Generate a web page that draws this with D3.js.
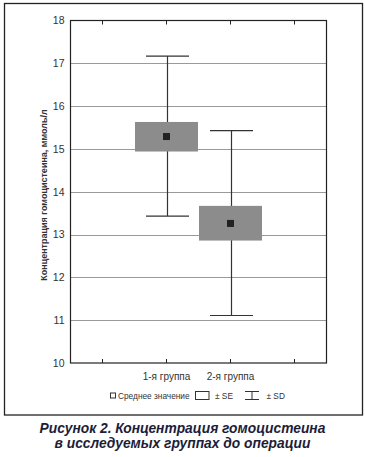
<!DOCTYPE html>
<html><head><meta charset="utf-8">
<script src="https://cdn.jsdelivr.net/npm/d3@7"></script>
<style>body{margin:0;background:#fff;}svg{display:block;font-family:"Liberation Sans",Arial,sans-serif;}</style>
</head><body>
<svg id="c" width="365" height="457"></svg>
<script>
const categories = ["", "1-я группа", "2-я группа", ""];
const groups = ["1-я группа", "2-я группа"];
const means = [15.29, 13.26];
const seLow = [14.94, 12.86];
const seHigh = [15.63, 13.67];
const sdLow = [13.43, 11.11];
const sdHigh = [17.17, 15.43];
const yTicks = [10, 11, 12, 13, 14, 15, 16, 17, 18];
const yLabel = "Концентрация гомоцистеина, ммоль/л";
const legendLabels = ["Среднее значение", "± SE", "± SD"];
const titleLines = ["Рисунок 2. Концентрация гомоцистеина", "в исследуемых группах до операции"];

const svg = d3.select("#c");
const L = 70.5, R = 326.5, T = 20.5, B = 363;
const x = d3.scaleBand().domain(categories.map((c, i) => i)).range([L, R]);
const y = d3.scaleLinear().domain([10, 18]).range([B, T]);

// outer frame
svg.append("rect").attr("x", 4.5).attr("y", 3.5).attr("width", 358).attr("height", 411.5)
  .attr("fill", "none").attr("stroke", "#222").attr("stroke-width", 1.3);

// gridlines
svg.append("g").selectAll("line").data(yTicks.filter(t => t > 10 && t < 18)).join("line")
  .attr("x1", L).attr("x2", R).attr("y1", d => Math.round(y(d)) + 0.5).attr("y2", d => Math.round(y(d)) + 0.5)
  .attr("stroke", "#9a9a9a").attr("stroke-width", 1);

// y axis labels
const yAxis = d3.axisLeft(y).tickValues(yTicks).tickSize(0).tickPadding(6);
const gy = svg.append("g").attr("transform", `translate(${L},0)`).call(yAxis);
gy.select(".domain").remove();
gy.selectAll("text").attr("font-size", 10.5).attr("fill", "#333").attr("font-family", "Liberation Sans, Arial");

// x axis bottom (inward ticks)
const xb = d3.axisBottom(x).tickSize(-4).tickPadding(10).tickFormat(i => categories[i]);
const gxb = svg.append("g").attr("transform", `translate(0,${B})`).call(xb);
gxb.select(".domain").remove();
gxb.selectAll("line").attr("stroke", "#222");
gxb.selectAll("text").attr("font-size", 10).attr("fill", "#333").attr("font-family", "Liberation Sans, Arial");
const xt = d3.axisTop(x).tickSize(-4).tickFormat("");
const gxt = svg.append("g").attr("transform", `translate(0,${T})`).call(xt);
gxt.select(".domain").remove();
gxt.selectAll("line").attr("stroke", "#222");

// y label
svg.append("text").attr("transform", `translate(46.5,195) rotate(-90)`)
  .attr("text-anchor", "middle").attr("font-size", 9).attr("font-weight", "bold").attr("fill", "#333")
  .text(yLabel);

// groups
const cx = i => x(i + 1) + x.bandwidth() / 2;
const capW = 43, boxW = 63, mk = 7;
const g = svg.append("g");
groups.forEach((name, i) => {
  const c = Math.round(cx(i)) + 0.5;
  g.append("line").attr("x1", c).attr("x2", c).attr("y1", y(sdHigh[i])).attr("y2", y(sdLow[i]))
    .attr("stroke", "#333").attr("stroke-width", 1.2);
  [sdHigh[i], sdLow[i]].forEach(v => {
    g.append("line").attr("x1", c - capW / 2).attr("x2", c + capW / 2).attr("y1", y(v)).attr("y2", y(v))
      .attr("stroke", "#333").attr("stroke-width", 1.2);
  });
  g.append("rect").attr("x", cx(i) - boxW / 2).attr("width", boxW)
    .attr("y", y(seHigh[i])).attr("height", y(seLow[i]) - y(seHigh[i])).attr("fill", "#8c8c8c");
  g.append("rect").attr("x", cx(i) - mk / 2).attr("y", y(means[i]) - mk / 2).attr("width", mk).attr("height", mk)
    .attr("fill", "#222");
});

// plot border
svg.append("rect").attr("x", L).attr("y", T).attr("width", R - L).attr("height", B - T)
  .attr("fill", "none").attr("stroke", "#222").attr("stroke-width", 1.2);

// legend
const ly = 395.5;
const lg = svg.append("g").attr("font-size", 8.3).attr("fill", "#333");
lg.append("rect").attr("x", 110.5).attr("y", ly - 2.5).attr("width", 5).attr("height", 5)
  .attr("fill", "none").attr("stroke", "#333").attr("stroke-width", 1);
lg.append("text").attr("x", 118).attr("y", ly + 3).text(legendLabels[0]);
lg.append("rect").attr("x", 195.5).attr("y", ly - 4).attr("width", 13.5).attr("height", 8)
  .attr("fill", "none").attr("stroke", "#333").attr("stroke-width", 1);
lg.append("text").attr("x", 215).attr("y", ly + 3).text(legendLabels[1]);
const sx = 245, sw = 14;
[[ly - 4], [ly + 4]].forEach(([yy]) => lg.append("line").attr("x1", sx).attr("x2", sx + sw).attr("y1", yy).attr("y2", yy).attr("stroke", "#333"));
lg.append("line").attr("x1", sx + sw / 2).attr("x2", sx + sw / 2).attr("y1", ly - 4).attr("y2", ly + 4).attr("stroke", "#333");
lg.append("text").attr("x", 266.5).attr("y", ly + 3).text(legendLabels[2]);

// title
const tg = svg.append("g").attr("font-size", 13.8).attr("font-weight", "bold").attr("font-style", "italic")
  .attr("fill", "#1d1d38").attr("text-anchor", "middle");
titleLines.forEach((t, i) => tg.append("text").attr("x", 182.5).attr("y", 433 + i * 15).text(t));
</script>
</body></html>
